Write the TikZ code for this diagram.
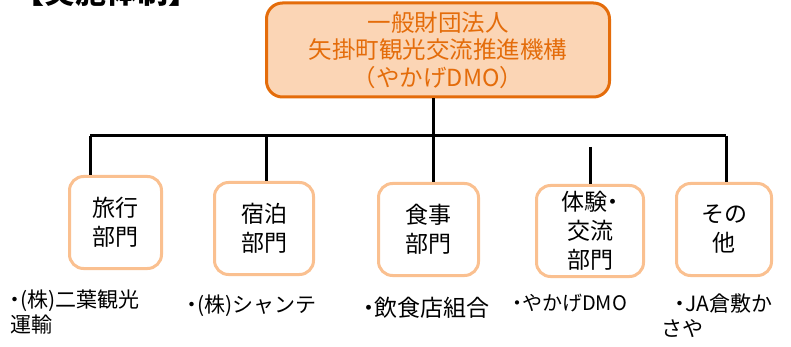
\documentclass[tikz,border=0pt]{standalone}
\usepackage{fontspec}
\newfontfamily\jpfont{Noto Sans CJK JP}
\newfontfamily\jpprop[RawFeature=+palt]{Noto Sans CJK JP}
\newcommand\pdot{{\jpprop ・}}
\begin{document}
\begin{tikzpicture}[x=1pt,y=-1pt]
\definecolor{dmoorange}{HTML}{E46C0A}
\definecolor{dmofill}{HTML}{FBD5B5}
\definecolor{unitorange}{HTML}{FAC090}
\tikzset{
  unit/.style={draw=unitorange, line width=3pt, rounded corners=14pt, fill=white, align=center,
    inner sep=0pt, font=\jpfont\fontsize{23}{29}\selectfont},
  member/.style={anchor=west, align=left, inner sep=0pt, font=\jpfont\fontsize{21}{25}\selectfont},
  branch/.style={draw, line width=3pt}
}
\useasboundingbox (0,0) rectangle (791,347);
\clip (0,0) rectangle (791,347);

\node[anchor=base west, inner sep=0pt, font=\jpfont\bfseries\fontsize{31}{31}\selectfont] (title) at (13,4) {【実施体制】};

\node[draw=dmoorange, line width=3pt, rounded corners=16pt, fill=dmofill, text=dmoorange, align=center,
  inner sep=0pt, minimum width=343pt, minimum height=94pt, font=\jpfont\fontsize{23.5}{27.5}\selectfont]
  (dmo) at (438,50) {一般財団法人\\矢掛町観光交流推進機構\\（やかげDMO）};

\node[unit, minimum width=92pt, minimum height=92pt] (travel) at (115.5,222.5) {旅行\\部門};
\node[unit, minimum width=99pt, minimum height=92pt] (stay) at (264,228.5) {宿泊\\部門};
\node[unit, minimum width=100pt, minimum height=92pt] (meal) at (428.5,229.5) {食事\\部門};
\node[unit, minimum width=107pt, minimum height=91pt] (exp) at (590,231) {体験\pdot\\交流\\部門};
\node[unit, minimum width=95pt, minimum height=92pt] (other) at (724,229.5) {その\\他};

\node[member] (travelm) at (10,312.5) {\pdot(株)二葉観光\\運輸};
\node[member] (staym) at (187,306) {\pdot(株)シャンテ};
\node[member, font=\jpfont\fontsize{23}{25}\selectfont] (mealm) at (363,308) {\pdot 飲食店組合};
\node[member, font=\jpfont\fontsize{20}{25}\selectfont] (expm) at (512,303) {\pdot やかげDMO};
\node[member, font=\jpfont\fontsize{21}{25}\selectfont] (otherm) at (661,315.5) {\hspace*{14pt}\pdot JA倉敷か\\さや};

\coordinate (b1) at (90,136);
\coordinate (b2) at (266,136);
\coordinate (b3) at (433,136);
\coordinate (b4) at (590,147);
\coordinate (b5) at (726,136);

\path[branch] (b3 |- dmo.south) -- (b3);
\path[branch] (b1) -- (b5);
\path[branch] (b1) -- (b1 |- travel.north);
\path[branch] (b2) -- (b2 |- stay.north);
\path[branch] (b3) -- (b3 |- meal.north);
\path[branch] (b4) -- (b4 |- exp.north);
\path[branch] (b5) -- (b5 |- other.north);
\end{tikzpicture}
\end{document}
